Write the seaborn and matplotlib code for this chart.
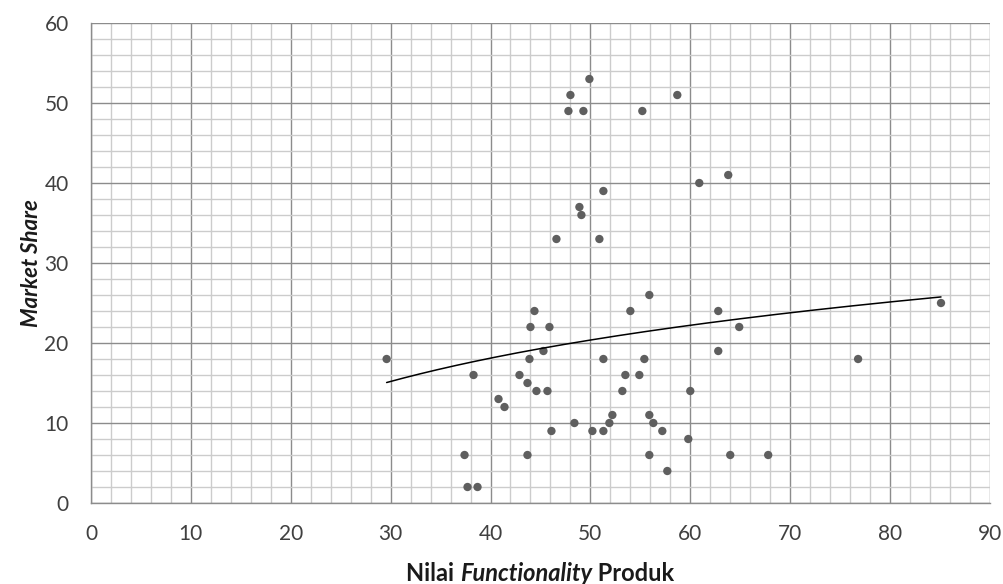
import matplotlib
matplotlib.use("Agg")
import matplotlib.pyplot as plt
from matplotlib.offsetbox import TextArea, HPacker, AnchoredOffsetbox
from matplotlib.ticker import MultipleLocator
import seaborn as sns
import numpy as np
import pandas as pd

# Nilai functionality produk (x) vs market share (y)
functionality = [29.6, 37.4, 37.7, 38.3, 38.7, 40.8, 41.4, 42.9, 43.7, 43.7,
                 43.9, 44.0, 44.4, 44.6, 45.3, 45.7, 45.9, 46.1, 46.6, 47.8,
                 48.0, 48.4, 48.9, 49.1, 49.3, 49.9, 50.2, 50.9, 51.3, 51.3,
                 51.3, 51.9, 52.2, 53.2, 53.5, 54.0, 54.9, 55.2, 55.4, 55.9,
                 55.9, 55.9, 56.3, 57.2, 57.7, 58.7, 59.8, 60.0, 60.9, 62.8,
                 62.8, 63.8, 64.0, 64.9, 67.8, 76.8, 85.1]
market_share = [18, 6, 2, 16, 2, 13, 12, 16, 15, 6,
                18, 22, 24, 14, 19, 14, 22, 9, 33, 49,
                51, 10, 37, 36, 49, 53, 9, 33, 39, 18,
                9, 10, 11, 14, 16, 24, 16, 49, 18, 26,
                11, 6, 10, 9, 4, 51, 8, 14, 40, 24,
                19, 41, 6, 22, 6, 18, 25]

df = pd.DataFrame({"x": functionality, "y": market_share})

# logarithmic trendline (like excel)
a, b = np.polyfit(np.log(df["x"]), df["y"], 1)
xs = np.linspace(df["x"].min(), df["x"].max(), 200)
trend = pd.DataFrame({"x": xs, "y": a * np.log(xs) + b})

sns.set_style("white")
plt.rcParams["font.family"] = ["Lato", "DejaVu Sans"]

fig = plt.figure(figsize=(10.04, 5.84), dpi=100)
ax = fig.add_axes([0.0906, 0.1387, 0.8954, 0.8219])

sns.scatterplot(data=df, x="x", y="y", ax=ax, color="#5f5f5f", s=36,
                edgecolor="none", zorder=3)
sns.lineplot(data=trend, x="x", y="y", ax=ax, color="black", linewidth=1.1,
             zorder=4)

ax.set_xlim(0, 90)
ax.set_ylim(0, 60)
ax.xaxis.set_major_locator(MultipleLocator(10))
ax.yaxis.set_major_locator(MultipleLocator(10))
ax.xaxis.set_minor_locator(MultipleLocator(2))
ax.yaxis.set_minor_locator(MultipleLocator(2))
ax.grid(which="minor", color="#cccccc", linewidth=1.0, zorder=0)
ax.grid(which="major", color="#8c8c8c", linewidth=1.0, zorder=1)
ax.set_axisbelow(True)

for side in ["top", "right"]:
    ax.spines[side].set_visible(False)
for side in ["left", "bottom"]:
    ax.spines[side].set_color("#8c8c8c")
    ax.spines[side].set_linewidth(1.0)

ax.tick_params(which="major", direction="out", length=6, width=1,
               color="#8c8c8c", labelsize=15, labelcolor="#404040")
ax.tick_params(which="minor", length=0)
ax.tick_params(axis="x", pad=9)
ax.tick_params(axis="y", pad=10)

ax.set_xlabel("")
ax.set_ylabel("Market Share", fontsize=16, fontweight="bold", fontstyle="italic",
              color="#1a1a1a", labelpad=2)

# x label with italic middle word
lbl = dict(fontsize=17, fontweight="bold", color="#1a1a1a")
parts = [TextArea("Nilai ", textprops=lbl),
         TextArea("Functionality", textprops=dict(lbl, fontstyle="italic")),
         TextArea(" Produk", textprops=lbl)]
box = HPacker(children=parts, align="baseline", pad=0, sep=0)
anchored = AnchoredOffsetbox(loc="center", child=box, frameon=False,
                             bbox_to_anchor=(0.5, -0.146), bbox_transform=ax.transAxes,
                             borderpad=0, pad=0)
ax.add_artist(anchored)

fig.savefig("out.png", dpi=100)
